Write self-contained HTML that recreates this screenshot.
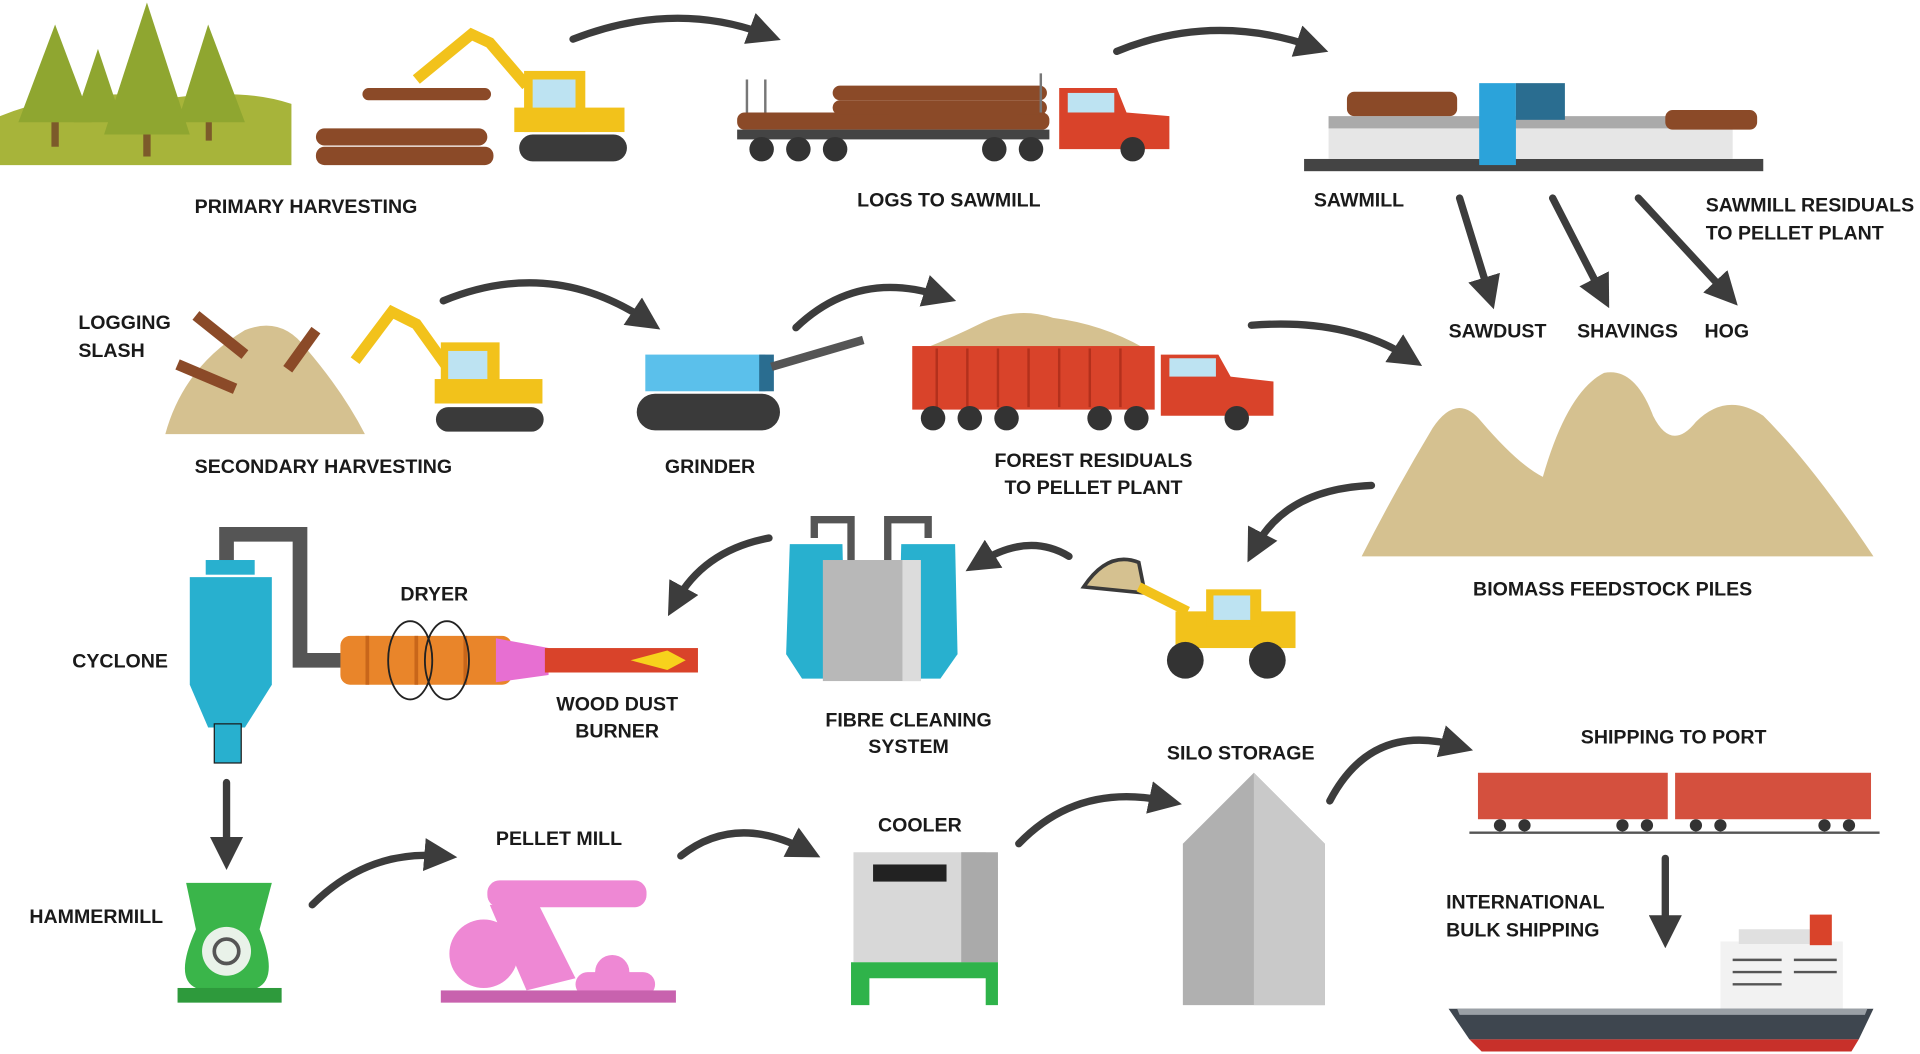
<!DOCTYPE html>
<html><head><meta charset="utf-8"><style>
html,body{margin:0;padding:0;background:#fff;}
svg{display:block}
text{font-family:"Liberation Sans",sans-serif;font-weight:bold;font-size:16px;fill:#1a1a1a;}
</style></head><body>
<svg width="1920" height="1054" viewBox="0 0 1568 862" preserveAspectRatio="none" xmlns="http://www.w3.org/2000/svg">
<defs>
<marker id="ah" viewBox="0 0 10 10" refX="5" refY="5" markerWidth="4.5" markerHeight="4.5" orient="auto"><path d="M0,0 L10,5 L0,10 z" fill="#3c3c3c"/></marker>
</defs>
<rect width="1568" height="862" fill="#fff"/>
<g fill="none" stroke="#3c3c3c" stroke-width="6" marker-end="url(#ah)" stroke-linecap="round">
<path d="M468,32 Q550,0 625,28"/>
<path d="M912,42 Q990,10 1072,38"/>
<path d="M1192,162 L1216,240"/>
<path d="M1268,162 L1308,240"/>
<path d="M1338,162 L1410,240"/>
<path d="M362,246 Q450,210 528,262"/>
<path d="M650,268 Q700,220 768,242"/>
<path d="M1022,266 Q1100,260 1150,292"/>
<path d="M1120,397 Q1050,400 1025,448"/>
<path d="M873,455 Q840,435 800,460"/>
<path d="M628,440 Q575,450 552,492"/>
<path d="M185,640 L185,698"/>
<path d="M255,740 Q300,695 360,700"/>
<path d="M556,700 Q600,665 658,695"/>
<path d="M832,690 Q880,640 952,655"/>
<path d="M1086,655 Q1120,590 1190,610"/>
<path d="M1360,702 L1360,762"/>
</g>
<path d="M0,135 L0,95 Q60,70 140,80 Q200,72 238,85 L238,135 Z" fill="#a7b43a"/>
<g fill="#8fa630"><path d="M45,20 L15,100 L75,100Z"/><path d="M120,2 L85,110 L155,110Z"/><path d="M80,40 L60,100 L100,100Z"/><path d="M170,20 L145,100 L200,100Z"/></g>
<g fill="#7c5a2a"><rect x="42" y="100" width="6" height="20"/><rect x="117" y="110" width="6" height="18"/><rect x="168" y="100" width="5" height="15"/></g>
<g fill="#8b4a28"><rect x="258" y="105" width="140" height="14" rx="7"/><rect x="258" y="120" width="145" height="15" rx="7"/><rect x="296" y="72" width="105" height="10" rx="5"/></g>
<path d="M340,65 L385,28 L400,35 L430,70" stroke="#f2c21b" stroke-width="9" fill="none"/>
<rect x="428" y="58" width="50" height="50" fill="#f2c21b"/><rect x="435" y="65" width="35" height="30" fill="#bde3f2"/>
<rect x="420" y="88" width="90" height="20" fill="#f2c21b"/>
<rect x="424" y="110" width="88" height="22" rx="11" fill="#3a3a3a"/>
<g fill="#8b4a28"><rect x="602" y="92" width="255" height="14" rx="6"/><rect x="680" y="70" width="175" height="12" rx="6"/><rect x="680" y="82" width="175" height="12" rx="6"/></g>
<g stroke="#777" stroke-width="2"><line x1="610" y1="65" x2="610" y2="92"/><line x1="625" y1="65" x2="625" y2="92"/><line x1="850" y1="60" x2="850" y2="92"/></g>
<rect x="602" y="106" width="255" height="8" fill="#444"/>
<path d="M865,72 L912,72 L920,92 L955,95 L955,122 L865,122Z" fill="#d9432a"/><rect x="872" y="76" width="38" height="16" fill="#bde3f2"/>
<g fill="#333"><circle cx="622" cy="122" r="10"/><circle cx="652" cy="122" r="10"/><circle cx="682" cy="122" r="10"/><circle cx="812" cy="122" r="10"/><circle cx="842" cy="122" r="10"/><circle cx="925" cy="122" r="10"/></g>
<rect x="1065" y="130" width="375" height="10" fill="#444"/>
<rect x="1085" y="95" width="330" height="35" fill="#e6e6e6"/><rect x="1085" y="95" width="330" height="10" fill="#aaa"/>
<g fill="#8b4a28"><rect x="1100" y="75" width="90" height="20" rx="6"/><rect x="1360" y="90" width="75" height="16" rx="6"/></g>
<rect x="1208" y="68" width="30" height="67" fill="#2ba3da"/><rect x="1238" y="68" width="40" height="30" fill="#2a6d90"/>
<text x="159" y="174">PRIMARY HARVESTING</text>
<text x="700" y="169">LOGS TO SAWMILL</text>
<text x="1073" y="169">SAWMILL</text>
<text x="1393" y="173">SAWMILL RESIDUALS</text>
<text x="1393" y="196">TO PELLET PLANT</text>
<text x="1183" y="276">SAWDUST</text><text x="1288" y="276">SHAVINGS</text><text x="1392" y="276">HOG</text>
<path d="M135,355 Q150,300 200,270 Q230,258 250,285 Q280,320 298,355Z" fill="#d5c190"/>
<g stroke="#8b4a28" stroke-width="9"><line x1="160" y1="258" x2="200" y2="290"/><line x1="145" y1="298" x2="192" y2="318"/><line x1="235" y1="302" x2="258" y2="270"/></g>
<path d="M290,295 L320,255 L340,265 L365,300" stroke="#f2c21b" stroke-width="9" fill="none"/>
<rect x="360" y="280" width="48" height="45" fill="#f2c21b"/><rect x="366" y="287" width="32" height="28" fill="#bde3f2"/>
<rect x="355" y="310" width="88" height="20" fill="#f2c21b"/><rect x="356" y="333" width="88" height="20" rx="10" fill="#3a3a3a"/>
<text x="64" y="269">LOGGING</text><text x="64" y="292">SLASH</text>
<text x="159" y="387">SECONDARY HARVESTING</text>
<rect x="527" y="290" width="98" height="30" fill="#5bc0eb"/><rect x="620" y="290" width="12" height="30" fill="#2a6d90"/>
<line x1="630" y1="300" x2="705" y2="278" stroke="#555" stroke-width="7"/>
<rect x="520" y="322" width="117" height="30" rx="15" fill="#3a3a3a"/>
<text x="543" y="387">GRINDER</text>
<path d="M755,285 Q780,275 800,265 Q830,250 860,260 Q900,265 935,285Z" fill="#d5c190"/>
<rect x="745" y="283" width="198" height="52" fill="#d9432a"/>
<g stroke="#b3301c" stroke-width="2"><line x1="765" y1="285" x2="765" y2="333"/><line x1="790" y1="285" x2="790" y2="333"/><line x1="815" y1="285" x2="815" y2="333"/><line x1="840" y1="285" x2="840" y2="333"/><line x1="865" y1="285" x2="865" y2="333"/><line x1="890" y1="285" x2="890" y2="333"/><line x1="915" y1="285" x2="915" y2="333"/></g>
<path d="M948,290 L995,290 L1005,308 L1040,312 L1040,340 L948,340Z" fill="#d9432a"/><rect x="955" y="293" width="38" height="15" fill="#bde3f2"/>
<g fill="#333"><circle cx="762" cy="342" r="10"/><circle cx="792" cy="342" r="10"/><circle cx="822" cy="342" r="10"/><circle cx="898" cy="342" r="10"/><circle cx="928" cy="342" r="10"/><circle cx="1010" cy="342" r="10"/></g>
<text x="893" y="382" text-anchor="middle">FOREST RESIDUALS</text><text x="893" y="404" text-anchor="middle">TO PELLET PLANT</text>
<path d="M1112,455 Q1140,400 1170,350 Q1190,320 1210,345 Q1240,380 1260,390 Q1280,320 1310,305 Q1335,300 1350,340 Q1365,370 1385,345 Q1410,320 1440,340 Q1480,380 1530,455Z" fill="#d5c190"/>
<text x="1203" y="487">BIOMASS FEEDSTOCK PILES</text>
<path d="M885,480 Q905,450 930,460 L935,485Z" fill="#d5c190" stroke="#3a3a3a" stroke-width="3"/>
<path d="M930,480 L970,500" stroke="#f2c21b" stroke-width="8"/>
<rect x="960" y="500" width="98" height="30" fill="#f2c21b"/><rect x="985" y="482" width="45" height="30" fill="#f2c21b"/><rect x="991" y="487" width="30" height="20" fill="#bde3f2"/>
<circle cx="968" cy="540" r="15" fill="#333"/><circle cx="1035" cy="540" r="15" fill="#333"/>
<path d="M665,440 L665,425 L695,425 L695,460 M758,440 L758,425 L725,425 L725,460" stroke="#555" stroke-width="6" fill="none"/>
<path d="M645,445 L688,445 L690,535 L675,555 L655,555 L642,535Z" fill="#28b0cf"/>
<path d="M736,445 L780,445 L782,535 L768,555 L748,555 L734,535Z" fill="#28b0cf"/>
<rect x="672" y="458" width="80" height="99" fill="#b8b8b8"/><rect x="737" y="458" width="15" height="99" fill="#dcdcdc"/>
<text x="742" y="594" text-anchor="middle">FIBRE CLEANING</text><text x="742" y="616" text-anchor="middle">SYSTEM</text>
<path d="M185,465 L185,437 L245,437 L245,540 L282,540" stroke="#555" stroke-width="12" fill="none"/>
<rect x="168" y="458" width="40" height="12" fill="#28b0cf"/>
<path d="M155,472 L222,472 L222,560 L200,595 L170,595 L155,560Z" fill="#28b0cf"/>
<rect x="175" y="592" width="22" height="32" fill="#28b0cf" stroke="#1a1a1a" stroke-width="1"/>
<rect x="278" y="520" width="140" height="40" rx="8" fill="#e9852a"/>
<g stroke="#c8661a" stroke-width="3"><line x1="300" y1="520" x2="300" y2="560"/><line x1="340" y1="520" x2="340" y2="560"/><line x1="380" y1="520" x2="380" y2="560"/></g>
<ellipse cx="335" cy="540" rx="18" ry="32" fill="none" stroke="#222" stroke-width="1.5"/><ellipse cx="365" cy="540" rx="18" ry="32" fill="none" stroke="#222" stroke-width="1.5"/>
<path d="M405,522 L448,530 L448,552 L405,558Z" fill="#e76fd2"/>
<rect x="445" y="530" width="125" height="20" fill="#d9432a"/>
<path d="M515,540 L545,532 L560,540 L545,548Z" fill="#f7d21c"/>
<text x="59" y="546">CYCLONE</text><text x="327" y="491">DRYER</text>
<text x="504" y="581" text-anchor="middle">WOOD DUST</text><text x="504" y="603" text-anchor="middle">BURNER</text>
<text x="953" y="621">SILO STORAGE</text>
<path d="M152,722 L222,722 L212,760 Q228,800 210,808 L160,808 Q142,800 160,760Z" fill="#3ab54a"/>
<circle cx="185" cy="778" r="20" fill="#e9f2e9"/><circle cx="185" cy="778" r="10" fill="none" stroke="#555" stroke-width="3"/>
<rect x="145" y="808" width="85" height="12" fill="#2e9a3c"/>
<text x="24" y="755">HAMMERMILL</text>
<g fill="#ee88d4"><rect x="398" y="720" width="130" height="22" rx="10"/><path d="M400,740 L440,740 L470,800 L430,810Z"/><circle cx="395" cy="780" r="28"/><rect x="470" y="795" width="65" height="20" rx="10"/><circle cx="500" cy="795" r="14"/></g>
<rect x="360" y="810" width="192" height="10" fill="#c862ae"/>
<text x="405" y="691">PELLET MILL</text>
<path d="M697,697 L805,697 L815,710 L815,787 L697,787Z" fill="#d8d8d8"/><rect x="785" y="697" width="30" height="90" fill="#aaa"/>
<rect x="713" y="707" width="60" height="14" fill="#222"/>
<path d="M695,787 L815,787 L815,822 L805,822 L805,800 L710,800 L710,822 L695,822Z" fill="#2fb34a"/>
<text x="717" y="680">COOLER</text>
<path d="M966,690 L1024,632 L1082,690 L1082,822 L966,822Z" fill="#b0b0b0"/>
<path d="M1024,632 L1082,690 L1082,822 L1024,822Z" fill="#c9c9c9"/>
<rect x="1207" y="632" width="155" height="38" fill="#d4503e"/><rect x="1368" y="632" width="160" height="38" fill="#d4503e"/>
<line x1="1200" y1="681" x2="1535" y2="681" stroke="#555" stroke-width="2"/>
<g fill="#333"><circle cx="1225" cy="675" r="5"/><circle cx="1245" cy="675" r="5"/><circle cx="1325" cy="675" r="5"/><circle cx="1345" cy="675" r="5"/><circle cx="1385" cy="675" r="5"/><circle cx="1405" cy="675" r="5"/><circle cx="1490" cy="675" r="5"/><circle cx="1510" cy="675" r="5"/></g>
<text x="1291" y="608">SHIPPING TO PORT</text>
<text x="1181" y="743">INTERNATIONAL</text><text x="1181" y="766">BULK SHIPPING</text>
<rect x="1405" y="770" width="100" height="55" fill="#f2f2f2"/><rect x="1420" y="760" width="60" height="12" fill="#e0e0e0"/>
<rect x="1478" y="748" width="18" height="25" fill="#d9432a"/>
<g stroke="#555" stroke-width="2"><line x1="1415" y1="785" x2="1455" y2="785"/><line x1="1415" y1="795" x2="1455" y2="795"/><line x1="1415" y1="805" x2="1455" y2="805"/><line x1="1465" y1="785" x2="1500" y2="785"/><line x1="1465" y1="795" x2="1500" y2="795"/></g>
<path d="M1183,825 L1530,825 L1518,850 L1200,850Z" fill="#3e464f"/>
<path d="M1190,825 L1525,825 L1523,830 L1192,830Z" fill="#9aa0a6"/>
<path d="M1200,850 L1518,850 L1512,860 L1210,860Z" fill="#c8302a"/>
</svg>
</body></html>
